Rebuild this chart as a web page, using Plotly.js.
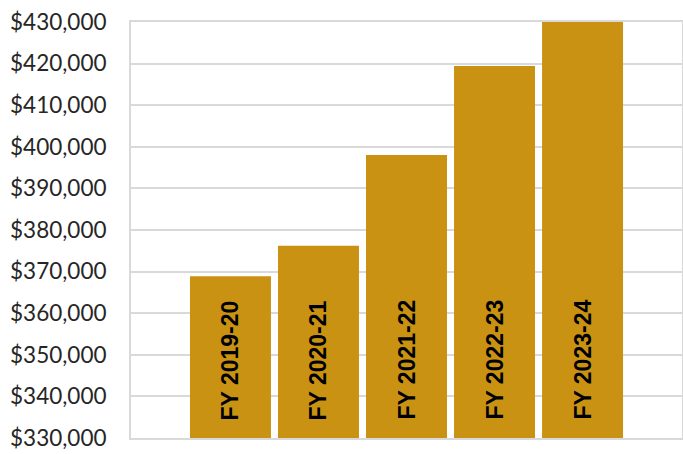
<!DOCTYPE html>
<html>
<head>
<meta charset="utf-8">
<script src="https://cdn.plot.ly/plotly-3.0.1.min.js"></script>
<style>html,body{margin:0;padding:0;background:#fff;}#chart{width:683px;height:454px;}</style>
</head>
<body>
<div id="chart"></div>
<script>
const categories = ["FY 2019-20", "FY 2020-21", "FY 2021-22", "FY 2022-23", "FY 2023-24"];
const values = [368900, 376200, 398000, 419400, 430000];
const yTicks = [330000, 340000, 350000, 360000, 370000, 380000, 390000, 400000, 410000, 420000, 430000];
const yTickLabels = yTicks.map(v => "$" + v.toLocaleString("en-US"));

const trace = {
  type: "bar",
  x: categories,
  y: values,
  base: 0,
  marker: {color: "#C99212", line: {width: 0}},
  hoverinfo: "none",
  cliponaxis: true
};

const annotations = categories.map(c => ({
  x: c, y: 330000, xref: "x", yref: "y",
  text: "<b>" + c + "</b>",
  textangle: -90,
  showarrow: false,
  xanchor: "center", yanchor: "bottom",
  yshift: 16,
  font: {family: "Liberation Sans, Arial, sans-serif", size: 23, color: "#000000"}
}));

const layout = {
  width: 683, height: 454,
  margin: {l: 131, r: 1, t: 22, b: 16, pad: 0},
  paper_bgcolor: "#ffffff", plot_bgcolor: "#ffffff",
  showlegend: false,
  bargap: 0.08,
  xaxis: {
    type: "category",
    range: [-1.13, 5.13],
    showticklabels: false,
    showgrid: false,
    zeroline: false,
    showline: true, mirror: true, linecolor: "#d9d9d9", linewidth: 2,
    ticks: "", fixedrange: true
  },
  yaxis: {
    range: [330000, 430000],
    tickvals: yTicks,
    ticktext: yTickLabels,
    showgrid: true, gridcolor: "#d9d9d9", gridwidth: 2,
    zeroline: false,
    showline: true, mirror: true, linecolor: "#d9d9d9", linewidth: 2,
    ticks: "",
    ticklabelstandoff: 18,
    tickfont: {family: "Lato, sans-serif", size: 22.5, color: "#262626"},
    fixedrange: true
  },
  annotations: annotations
};

Plotly.newPlot("chart", [trace], layout, {displayModeBar: false, staticPlot: true});
</script>
</body>
</html>
